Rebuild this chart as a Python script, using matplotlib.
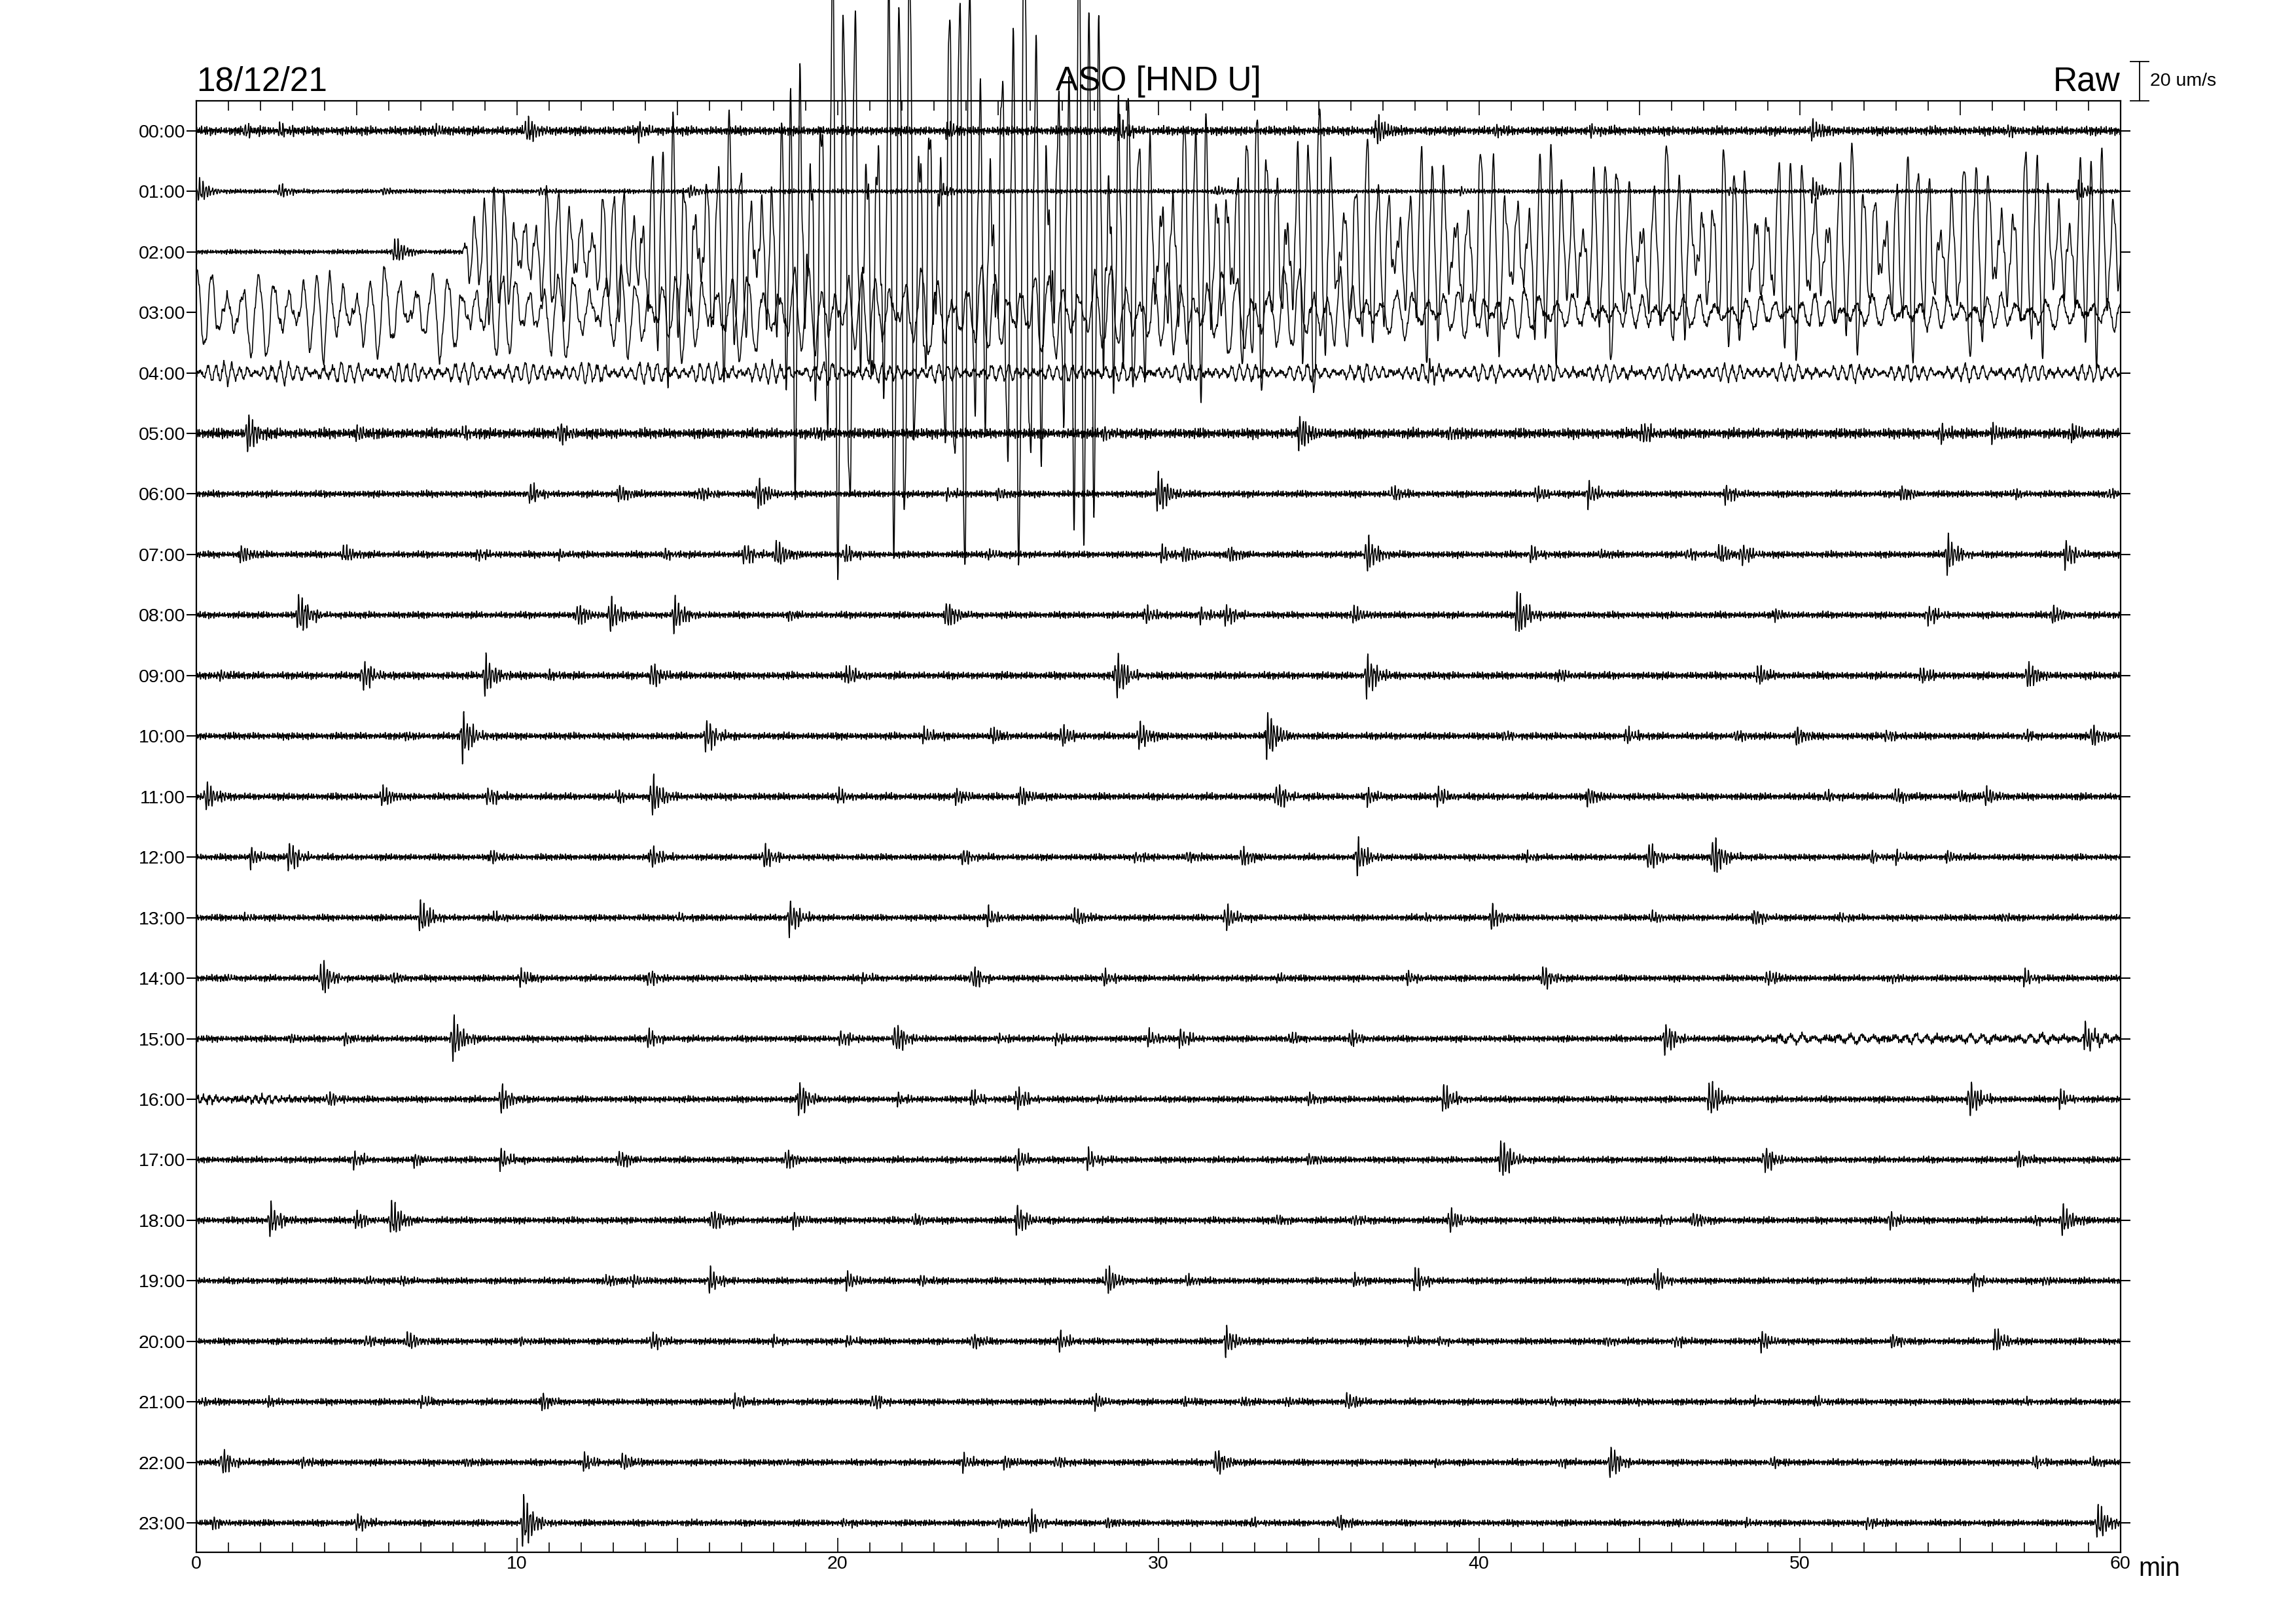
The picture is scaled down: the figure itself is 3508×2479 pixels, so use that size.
import numpy as np
import matplotlib
matplotlib.use('Agg')
import matplotlib.pyplot as plt
from matplotlib.ticker import MultipleLocator

plt.rcParams['font.family'] = ['Liberation Sans', 'DejaVu Sans']

# ---- chart text ----
DATE_LABEL = '18/12/21'
STATION = 'ASO [HND U]'
FILTER_LABEL = 'Raw'
SCALE_LABEL = '20 um/s'
SCALE_UMS = 20.0
ROWS_PER_UMS = 0.65 / 20.0     # trace gain (one row ~ 31 um/s)

HOURS = ['00:00', '01:00', '02:00', '03:00', '04:00', '05:00', '06:00', '07:00',
         '08:00', '09:00', '10:00', '11:00', '12:00', '13:00', '14:00', '15:00',
         '16:00', '17:00', '18:00', '19:00', '20:00', '21:00', '22:00', '23:00']
XTICK_LABELS = ['0', '', '10', '', '20', '', '30', '', '40', '', '50', '', '60']

# background noise half-width per hour line (um/s)
NOISE_UMS = [3.0, 1.5, 1.6, 2.0, 1.8, 3.4, 2.3, 2.3, 2.3, 2.5, 2.4, 2.4,
             2.2, 2.2, 2.2, 2.2, 2.2, 2.2, 2.3, 2.2, 2.2, 2.2, 2.2, 2.2]

# continuous tremor segments: hour line, start / end minute, peak amplitude (um/s), period (min)
TREMOR_HOUR = [2, 2, 2, 2, 2, 3, 3, 3, 4, 4, 15, 16]
TREMOR_START = [8.4, 13.8, 18.5, 29.0, 35.5, 0.0, 36.0, 42.0, 0.0, 20.0, 48.5, 0.0]
TREMOR_END = [13.8, 18.5, 29.0, 35.5, 60.0, 36.0, 42.0, 60.0, 20.0, 60.0, 60.0, 3.5]
TREMOR_UMS = [37, 70, 170, 82, 58, 25, 14, 9.5, 5.5, 4.5, 2.2, 1.8]
TREMOR_PERIOD = [0.33, 0.33, 0.33, 0.33, 0.36, 0.45, 0.45, 0.45, 0.26, 0.26, 0.35, 0.2]

# discrete events per hour line: (minute, peak amplitude um/s)
EV_00 = [(1.5, 3), (2.6, 3), (7.4, 3), (10.3, 7), (13.8, 4), (23.4, 4), (28.8, 6),
         (36.8, 7.5), (40.5, 2.5), (43.5, 2.5), (50.4, 5), (56.5, 2.5)]
EV_01 = [(0.1, 6), (2.6, 3.5), (5.8, 2), (10.7, 2), (15.4, 3), (23.3, 3), (31.8, 2.5),
         (39.4, 2), (47.8, 2), (50.4, 6), (58.7, 5)]
EV_02 = [(6.2, 7)]
EV_03 = []
EV_04 = [(38.4, 5)]
EV_05 = [(1.6, 10), (5.0, 4), (8.3, 3), (11.3, 6), (19.3, 3), (28.3, 3), (34.4, 9),
         (39.1, 3), (45.1, 6), (54.4, 4), (56.0, 4), (58.5, 4)]
EV_06 = [(10.4, 5), (13.2, 4.5), (15.7, 4), (17.5, 8), (23.4, 2.5), (25.0, 3), (30.0, 11),
         (37.3, 4), (41.8, 4), (43.4, 6), (47.7, 4.5), (53.2, 4), (56.7, 2), (59.6, 2.5)]
EV_07 = [(1.4, 4.5), (4.6, 4.5), (8.8, 3), (11.3, 2), (14.6, 2.5), (17.1, 5.5), (18.1, 7),
         (20.2, 4.5), (24.7, 2.5), (30.1, 4), (30.8, 4), (32.2, 4), (36.5, 9.5), (41.6, 4),
         (43.8, 2), (46.5, 3), (47.5, 5), (48.2, 5), (54.6, 9.5), (58.3, 7)]
EV_08 = [(3.2, 11), (11.9, 5.5), (12.9, 8.5), (14.9, 8.5), (18.5, 2), (23.4, 7), (29.6, 4.5),
         (31.3, 4), (32.1, 5), (36.1, 4.5), (41.2, 12), (49.2, 3), (54.0, 5), (57.9, 4.5)]
EV_09 = [(0.7, 2.5), (5.2, 8), (9.0, 10), (11.0, 2), (14.2, 6.5), (20.3, 5.5), (28.7, 11.5),
         (36.5, 10.5), (42.5, 3), (48.7, 5), (53.8, 4), (57.1, 7)]
EV_10 = [(6.5, 1.5), (8.3, 12), (15.9, 8.5), (22.7, 4), (24.8, 4), (27.0, 5.5), (29.4, 7),
         (33.4, 12), (40.8, 2.5), (44.6, 4), (48.0, 3), (49.9, 4.5), (52.7, 3), (57.0, 2.5),
         (59.1, 5.5)]
EV_11 = [(0.3, 7.5), (5.8, 5), (9.1, 4.5), (13.1, 3), (14.2, 10), (20.0, 4), (23.7, 4),
         (25.7, 5), (33.7, 7), (36.5, 4), (38.7, 5), (43.4, 4.5), (50.8, 3), (53.0, 4),
         (55.0, 3), (55.8, 4.5)]
EV_12 = [(1.7, 4.5), (2.9, 7.5), (9.2, 3), (14.2, 5.5), (17.7, 6), (23.9, 4), (29.3, 2.5),
         (30.9, 3), (32.6, 5), (36.2, 8.5), (41.5, 2), (45.3, 7), (47.3, 10.5), (52.2, 3),
         (53.0, 2.5), (54.6, 2.5)]
EV_13 = [(1.5, 1.5), (7.0, 8.5), (9.3, 2.5), (15.0, 2), (18.5, 8.5), (24.7, 4.5), (27.4, 4.5),
         (32.1, 6.5), (38.3, 1.5), (40.4, 6), (45.4, 3), (48.6, 4.5), (51.3, 2), (56.3, 2)]
EV_14 = [(0.9, 1.5), (3.9, 9), (6.1, 3), (10.1, 4.5), (14.1, 4), (20.8, 2), (24.2, 6),
         (28.3, 4), (33.7, 2), (37.8, 3), (42.0, 6), (49.0, 4), (52.9, 2), (57.0, 4)]
EV_15 = [(2.9, 2), (4.6, 3), (8.0, 11), (14.1, 4.5), (20.1, 4), (21.8, 8), (25.0, 2),
         (26.8, 3), (29.7, 4), (30.7, 4.5), (34.1, 3), (36.0, 4), (45.8, 8), (58.9, 7)]
EV_16 = [(4.1, 4), (9.5, 7), (18.8, 8.5), (21.9, 2.5), (24.2, 4), (25.6, 6), (28.1, 1.5),
         (34.7, 3), (38.9, 7), (47.2, 9.5), (55.3, 9), (58.1, 4.5)]
EV_17 = [(4.9, 4), (6.8, 3), (9.5, 5), (13.2, 4.5), (18.4, 5), (25.6, 5), (27.8, 5),
         (34.7, 3), (40.7, 11), (48.9, 7), (56.8, 4)]
EV_18 = [(2.3, 8), (5.0, 4.5), (6.1, 9.5), (16.1, 6), (18.6, 4), (22.4, 3), (25.6, 7.5),
         (33.7, 2.5), (36.1, 3), (39.1, 6), (44.4, 2), (45.7, 2), (46.7, 4), (52.8, 4.5),
         (57.3, 2), (58.2, 7.5)]
EV_19 = [(5.3, 2), (6.4, 2), (12.8, 3), (13.6, 3), (16.0, 6), (20.3, 4.5), (22.6, 2.5),
         (28.4, 7.5), (30.9, 3), (36.1, 3), (38.0, 6), (44.6, 1.5), (45.5, 6), (55.4, 4),
         (57.6, 2)]
EV_20 = [(5.3, 3), (6.6, 5), (10.1, 2), (14.2, 4.5), (18.0, 2), (20.3, 2.5), (24.2, 4),
         (26.9, 5), (32.1, 7), (37.8, 2), (38.8, 2), (44.0, 2.5), (46.1, 3), (48.8, 5),
         (52.9, 3.5), (56.1, 6)]
EV_21 = [(0.2, 1.5), (2.2, 2), (7.0, 3), (10.8, 4), (16.8, 4), (21.1, 4), (28.0, 4),
         (30.8, 2), (32.6, 2), (34.0, 2), (35.9, 4.5), (42.2, 2), (44.8, 1.5), (48.6, 1.5),
         (50.5, 2.5), (57.0, 1.5)]
EV_22 = [(0.8, 7), (3.3, 2.5), (8.4, 2), (12.1, 4), (13.3, 4.5), (18.2, 1.5), (23.9, 4),
         (25.2, 3), (26.8, 3), (31.8, 7), (38.6, 1.5), (42.5, 2), (44.1, 8), (49.1, 2.5),
         (57.3, 3), (59.1, 2.5)]
EV_23 = [(0.5, 3), (5.0, 4.5), (10.2, 13.5), (20.2, 1.5), (25.0, 2.5), (26.0, 6), (28.4, 2.5),
         (32.9, 2), (35.6, 4), (46.2, 1.5), (48.3, 1.5), (52.1, 3), (59.3, 9)]

EVENTS = [EV_00, EV_01, EV_02, EV_03, EV_04, EV_05, EV_06, EV_07, EV_08, EV_09, EV_10, EV_11,
          EV_12, EV_13, EV_14, EV_15, EV_16, EV_17, EV_18, EV_19, EV_20, EV_21, EV_22, EV_23]

TWO_PI = 2 * np.pi
t = np.arange(0, 60.0001, 1 / 120.0)   # minutes, 0.5 s samples


# wiggle textures (shape only; amplitudes come from the lists above)
def noise_wiggle(amp, k):
    car = (0.45 * np.sin(TWO_PI * 19.7 * t + k) + 0.3 * np.sin(TWO_PI * 13.1 * t + 1.7 * k)
           + 0.25 * np.sin(TWO_PI * 31.3 * t + 0.6 * k))
    mod = 0.8 + 0.2 * np.sin(TWO_PI * 0.9 * t + k) * np.sin(TWO_PI * 0.31 * t)
    return amp * car * mod


def burst(t0, amp, k):
    d = t - t0
    env = np.where(d < 0, np.exp(-(d / 0.06) ** 2), np.exp(-d / 0.3))
    car = 0.7 * np.sin(TWO_PI * 10.3 * d + k) + 0.3 * np.sin(TWO_PI * 16.9 * d + 2 * k)
    return 1.25 * amp * env * car


def tremor(start, end, amp, period, k):
    w = np.clip((t - start) / 0.3 + 0.5, 0, 1) * np.clip((end - t) / 0.3 + 0.5, 0, 1)
    if start <= 0:
        w = np.clip((end - t) / 0.3 + 0.5, 0, 1)
    m = 0.55 + 0.3 * np.sin(TWO_PI * 0.53 * t + k) + 0.15 * np.sin(TWO_PI * 1.71 * t + 2 * k)
    ph = TWO_PI * t / period + 1.2 * np.sin(TWO_PI * 0.19 * t + k)
    ripple = 0.08 * np.sin(TWO_PI * t / (period * 0.31) + 2 * k)
    return amp * w * (m * np.sin(ph) + ripple)


fig = plt.figure(figsize=(35.08, 24.79), dpi=100)
ax = fig.add_axes([0.0855, 0.0434, 0.838, 0.8943])

for h in range(24):
    sig = noise_wiggle(NOISE_UMS[h], h * 0.77)
    for i, (tm, a) in enumerate(EVENTS[h]):
        sig = sig + burst(tm, a, i * 1.3 + h)
    for j in range(len(TREMOR_HOUR)):
        if TREMOR_HOUR[j] == h:
            sig = sig + tremor(TREMOR_START[j], TREMOR_END[j], TREMOR_UMS[j],
                               TREMOR_PERIOD[j], j * 0.9 + h)
    ax.plot(t, h - sig * ROWS_PER_UMS, color='black', lw=1.15, clip_on=False)

ax.set_xlim(0, 60)
ax.set_ylim(23.49, -0.49)

ax.set_yticks(range(24))
ax.set_yticklabels(HOURS)
ax.tick_params(axis='y', which='both', left=True, right=True, direction='out',
               length=11, width=1.5, labelsize=20.5, pad=1)

ax.set_xticks(range(0, 61, 5))
ax.set_xticklabels(XTICK_LABELS)
ax.xaxis.set_minor_locator(MultipleLocator(1))
ax.tick_params(axis='x', which='major', top=True, bottom=True, direction='in',
               length=16, width=1.2, labelsize=20.5, pad=3.5)
ax.tick_params(axis='x', which='minor', top=True, bottom=True, direction='in',
               length=11, width=1.2)
for sp in ax.spines.values():
    sp.set_linewidth(1.6)

# header texts
fig.text(0.0855, 0.9443, DATE_LABEL, fontsize=37, ha='left', va='baseline')
fig.text(0.5045, 0.9443, STATION, fontsize=37, ha='center', va='baseline')
fig.text(0.9235, 0.9443, FILTER_LABEL, fontsize=37, ha='right', va='baseline')
fig.text(0.9313, 0.029, 'min', fontsize=28.5, ha='left', va='baseline')

# amplitude scale bar above the top-right corner
trans = ax.get_yaxis_transform()
y_bot = -0.49
y_top = y_bot - SCALE_UMS * ROWS_PER_UMS
ax.plot([1.0099, 1.0099], [y_bot, y_top], color='black', lw=1.3, transform=trans, clip_on=False)
for yy in (y_bot, y_top):
    ax.plot([1.0051, 1.0147], [yy, yy], color='black', lw=1.3, transform=trans, clip_on=False)
ax.text(1.0153, (y_bot + y_top) / 2, SCALE_LABEL, fontsize=20.5, ha='left', va='center',
        transform=trans)

fig.savefig('out.png', dpi=100, facecolor='white')
